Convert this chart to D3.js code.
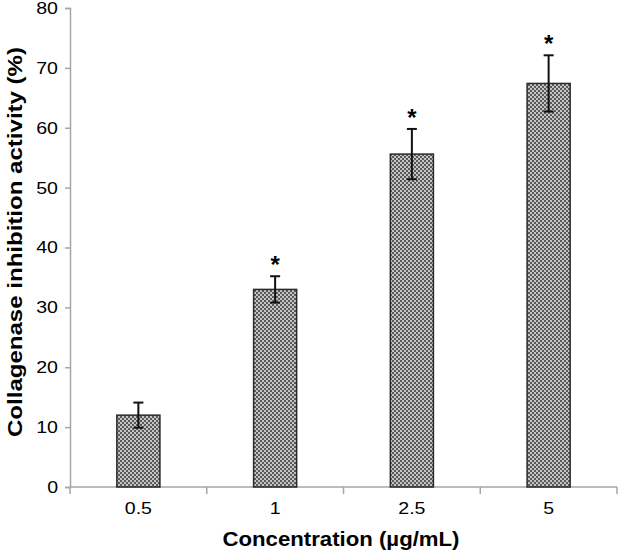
<!DOCTYPE html>
<html><head><meta charset="utf-8">
<script src="https://d3js.org/d3.v7.min.js"></script>
<style>body{margin:0;background:#fff}svg{display:block}</style>
</head><body>
<script>
const categories = ["0.5", "1", "2.5", "5"];
const values = [12.0, 33.0, 55.6, 67.4];
const errors = [2.1, 2.2, 4.2, 4.7];
const significant = [false, true, true, true];
const yTicks = [0, 10, 20, 30, 40, 50, 60, 70, 80];
const xTitle = "Concentration (\u00b5g/mL)";
const yTitle = "Collagenase inhibition activity (%)";

const W = 618, H = 553;
const L = 70, R = 617, T = 8, B = 487;
const svg = d3.select("body").append("svg").attr("width", W).attr("height", H);

const defs = svg.append("defs");
const pat = defs.append("pattern").attr("id", "dots").attr("patternUnits", "userSpaceOnUse")
  .attr("width", 4).attr("height", 4);
pat.append("rect").attr("width", 4).attr("height", 4).attr("fill", "#c4c4c4");
pat.append("rect").attr("x", 0).attr("y", 0).attr("width", 2).attr("height", 2).attr("fill", "#5a5a5a");
pat.append("rect").attr("x", 2).attr("y", 2).attr("width", 2).attr("height", 2).attr("fill", "#5a5a5a");

const x = d3.scaleBand().domain(categories).range([L, R]).paddingInner(0.685).paddingOuter(0.3425);
const y = d3.scaleLinear().domain([0, 80]).range([B, T]);

const font = "'Liberation Sans', Arial, sans-serif";
const axisColor = "#a6a6a6";

// y axis
const yAxis = svg.append("g").attr("transform", `translate(${L},0)`)
  .call(d3.axisLeft(y).tickValues(yTicks).tickSize(5).tickPadding(7));
yAxis.select(".domain").attr("stroke", axisColor).attr("stroke-width", 1.5);
yAxis.selectAll(".tick line").attr("stroke", axisColor).attr("stroke-width", 1.5);
yAxis.selectAll(".tick text").attr("font-family", font).attr("font-size", 17).attr("fill", "#000");

// x axis (labels)
const xAxis = svg.append("g").attr("transform", `translate(0,${B})`)
  .call(d3.axisBottom(x).tickSize(0).tickPadding(15));
xAxis.select(".domain").remove();
xAxis.selectAll(".tick text").attr("font-family", font).attr("font-size", 17).attr("fill", "#000");
svg.append("line").attr("x1", L).attr("x2", R).attr("y1", B).attr("y2", B)
  .attr("stroke", axisColor).attr("stroke-width", 1.5);
const bounds = [x(categories[0]) + x.bandwidth()/2 - x.step()/2]
  .concat(categories.map(c => x(c) + x.bandwidth()/2 + x.step()/2));
svg.selectAll(".xb").data(bounds).join("line")
  .attr("x1", d => d).attr("x2", d => d).attr("y1", B).attr("y2", B + 7)
  .attr("stroke", axisColor).attr("stroke-width", 1.5);

// widen tick text
svg.selectAll(".tick text").each(function(){
  const w = this.getComputedTextLength();
  d3.select(this).attr("textLength", w * 1.15).attr("lengthAdjust", "spacingAndGlyphs");
});

const data = categories.map((c, i) => ({c, v: values[i], e: errors[i], s: significant[i]}));

// bars
svg.selectAll(".bar").data(data).join("rect")
  .attr("x", d => x(d.c)).attr("width", x.bandwidth())
  .attr("y", d => y(d.v)).attr("height", d => y(0) - y(d.v))
  .attr("fill", "url(#dots)").attr("stroke", "#2a2a2a").attr("stroke-width", 1.5);

// error bars
const eb = svg.selectAll(".eb").data(data).join("g");
eb.append("line").attr("x1", d => x(d.c) + x.bandwidth()/2).attr("x2", d => x(d.c) + x.bandwidth()/2)
  .attr("y1", d => y(d.v - d.e)).attr("y2", d => y(d.v + d.e)).attr("stroke", "#111").attr("stroke-width", 2);
eb.append("line").attr("x1", d => x(d.c) + x.bandwidth()/2 - 5).attr("x2", d => x(d.c) + x.bandwidth()/2 + 5)
  .attr("y1", d => y(d.v + d.e)).attr("y2", d => y(d.v + d.e)).attr("stroke", "#111").attr("stroke-width", 2);
eb.append("line").attr("x1", d => x(d.c) + x.bandwidth()/2 - 5).attr("x2", d => x(d.c) + x.bandwidth()/2 + 5)
  .attr("y1", d => y(d.v - d.e)).attr("y2", d => y(d.v - d.e)).attr("stroke", "#111").attr("stroke-width", 2);

// stars
svg.selectAll(".star").data(data.filter(d => d.s)).join("text")
  .attr("x", d => x(d.c) + x.bandwidth()/2).attr("y", d => y(d.v + d.e) - 3)
  .attr("text-anchor", "middle").attr("font-family", font).attr("font-weight", "bold")
  .attr("font-size", 24).text("*");

// titles
svg.append("text").attr("x", 341).attr("y", 546).attr("text-anchor", "middle")
  .attr("font-family", font).attr("font-weight", "bold").attr("font-size", 20)
  .attr("textLength", 237).attr("lengthAdjust", "spacingAndGlyphs").text(xTitle);
svg.append("text").attr("transform", "translate(22,242) rotate(-90)").attr("text-anchor", "middle")
  .attr("font-family", font).attr("font-weight", "bold").attr("font-size", 20)
  .attr("textLength", 390).attr("lengthAdjust", "spacingAndGlyphs").text(yTitle);
</script>
</body></html>
